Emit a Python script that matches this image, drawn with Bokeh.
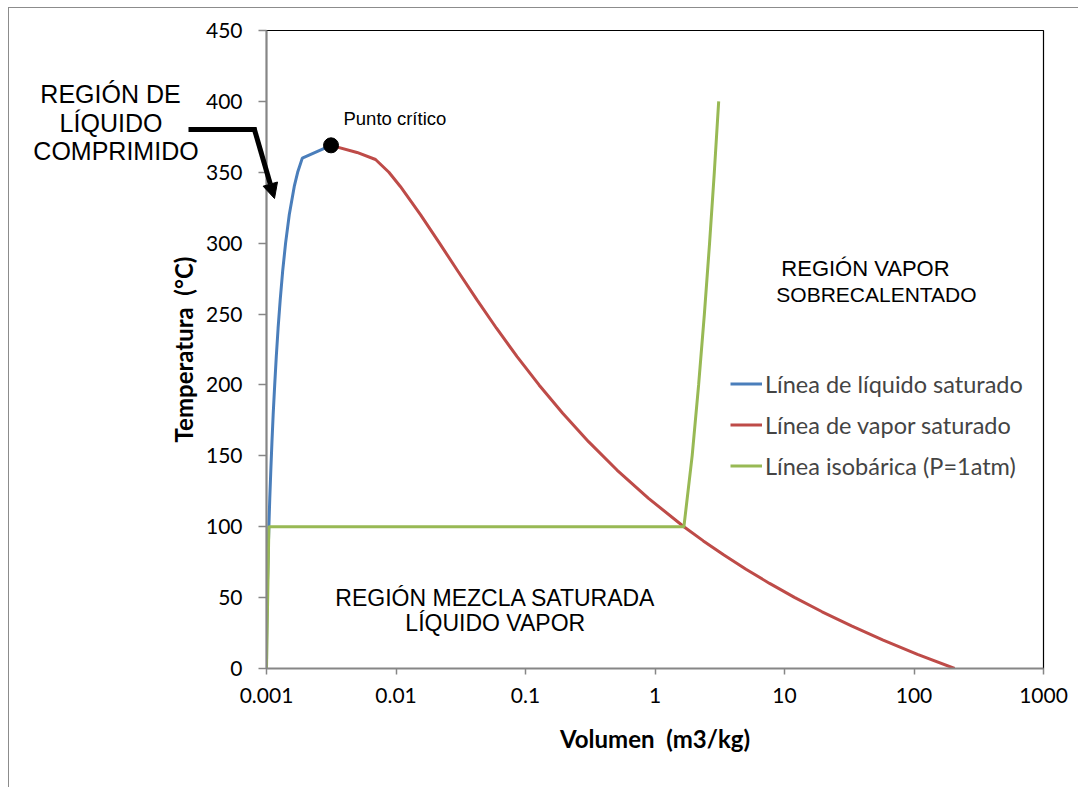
from bokeh.plotting import figure
from bokeh.models import Label, Arrow, NormalHead, FixedTicker, Legend, LegendItem, Range1d
from bokeh.embed import file_html
from bokeh.resources import INLINE

# Saturated liquid line (blue)
liq_v = [0.001000, 0.001002, 0.001008, 0.001017, 0.001029, 0.001043, 0.001060, 0.001080,
         0.001102, 0.001127, 0.001157, 0.001190, 0.001229, 0.001276, 0.001332, 0.001404,
         0.001499, 0.001638, 0.001740, 0.001890, 0.003150]
liq_T = [0, 20, 40, 60, 80, 100, 120, 140, 160, 180, 200, 220, 240, 260, 280, 300,
         320, 340, 350, 360, 369]

# Saturated vapour line (red)
vap_v = [0.003150, 0.005000, 0.006950, 0.008813, 0.010800, 0.015490, 0.021670, 0.030170,
         0.042200, 0.059700, 0.086090, 0.127200, 0.193800, 0.306800, 0.508500, 0.891500,
         1.672, 2.361, 3.407, 5.042, 7.671, 12.03, 19.52, 32.89, 57.78, 106.4, 206.0]
vap_T = [369, 364, 359, 350, 340, 320, 300, 280, 260, 240, 220, 200, 180, 160, 140, 120,
         100, 90, 80, 70, 60, 50, 40, 30, 20, 10, 0]

# Isobar P = 1 atm (green)
iso_v = [0.001000, 0.001043, 1.672, 1.936, 2.172, 2.406, 2.639, 2.871, 3.103]
iso_T = [0, 100, 100, 150, 200, 250, 300, 350, 400]

# Critical point
crit_v = [0.00315]
crit_T = [369]

x_ticks = [0.001, 0.01, 0.1, 1, 10, 100, 1000]
x_tick_labels = ["0.001", "0.01", "0.1", "1", "10", "100", "1000"]
y_ticks = [0, 50, 100, 150, 200, 250, 300, 350, 400, 450]

series_names = ["Línea de líquido saturado", "Línea de vapor saturado", "Línea isobárica (P=1atm)"]
series_colors = ["#4A7EBB", "#BE4B48", "#98B954"]

W, H = 1070, 780
p = figure(width=W, height=H, x_axis_type="log",
           x_range=Range1d(0.001, 1000), y_range=Range1d(0, 450),
           output_backend="svg", toolbar_location=None,
           min_border_left=257, min_border_right=36, min_border_top=22, min_border_bottom=120)
p.styles = {"border-left": "1px solid #8c8c8c", "border-top": "1px solid #8c8c8c",
            "margin-left": "8px", "margin-top": "7px"}
p.grid.visible = False
p.outline_line_color = "black"
p.outline_line_width = 1.2
p.background_fill_color = "white"
p.border_fill_color = "white"

TICK_FONT = "Lato"
for ax in (p.xaxis[0], p.yaxis[0]):
    ax.axis_line_color = "#868686"
    ax.axis_line_width = 2
    ax.major_tick_line_color = "#868686"
    ax.major_tick_line_width = 1.5
    ax.minor_tick_line_color = None
    ax.major_tick_in = 0
    ax.major_label_text_font = TICK_FONT
    ax.major_label_text_font_size = "21px"
    ax.major_label_text_color = "black"
    ax.axis_label_text_font = TICK_FONT
    ax.axis_label_text_font_style = "bold"
    ax.axis_label_text_font_size = "24px"
    ax.axis_label_text_color = "black"

p.xaxis.ticker = FixedTicker(ticks=x_ticks)
p.xaxis.major_label_overrides = dict(zip(x_ticks, x_tick_labels))
p.xaxis.major_tick_out = 6
p.xaxis.major_label_standoff = 13
p.xaxis.axis_label = "Volumen\u00a0 (m3/kg)"
p.xaxis.axis_label_standoff = 18

p.yaxis.ticker = FixedTicker(ticks=y_ticks)
p.yaxis.major_tick_out = 8
p.yaxis.major_label_standoff = 16
p.yaxis.axis_label = "Temperatura\u00a0 (°C)"
p.yaxis.axis_label_standoff = 5

r_liq = p.line(liq_v, liq_T, line_color=series_colors[0], line_width=3)
r_vap = p.line(vap_v, vap_T, line_color=series_colors[1], line_width=3)
r_iso = p.line(iso_v, iso_T, line_color=series_colors[2], line_width=3)
p.scatter(crit_v, crit_T, size=15, color="black")

legend = Legend(items=[LegendItem(label=series_names[0], renderers=[r_liq]),
                       LegendItem(label=series_names[1], renderers=[r_vap]),
                       LegendItem(label=series_names[2], renderers=[r_iso])],
                location=(464, 188))
legend.background_fill_alpha = 0
legend.border_line_color = None
legend.padding = 0
legend.margin = 0
legend.glyph_width = 32
legend.glyph_height = 29
legend.label_height = 29
legend.spacing = 12
legend.label_standoff = 3
legend.label_text_font = "Lato"
legend.label_text_font_size = "23.5px"
legend.label_text_baseline = "middle"
p.add_layout(legend)

REG_FONT = "Liberation Sans"

def add_label(fig, x, y, text, size, align="center"):
    fig.add_layout(Label(x=x, y=y, text=text,
                         text_font=REG_FONT, text_font_size=size,
                         text_align=align, text_baseline="middle", text_color="black"))

# Region labels inside the plot (data units)
add_label(p, 3.93e-3, 387.7, "Punto crítico", "18.5px", align="left")
add_label(p, 42.2, 281.9, "REGIÓN VAPOR", "22px")
add_label(p, 51.3, 263.5, "SOBRECALENTADO", "21px")
add_label(p, 0.0587, 49.9, "REGIÓN MEZCLA SATURADA", "23px")
add_label(p, 0.0584, 32.2, "LÍQUIDO VAPOR", "23px")

# Transparent overlay (page-pixel coordinates) for the callout left of the plot area
q = figure(width=280, height=210, x_range=Range1d(0, 280), y_range=Range1d(210, 0),
           output_backend="svg", toolbar_location=None,
           x_axis_location=None, y_axis_location=None,
           min_border_left=0, min_border_right=0, min_border_top=0, min_border_bottom=0)
q.styles = {"position": "absolute", "left": "0px", "top": "0px"}
q.outline_line_color = None
q.background_fill_alpha = 0
q.border_fill_alpha = 0
q.grid.visible = False

add_label(q, 110, 93, "REGIÓN DE", "25px")
add_label(q, 110.5, 122, "LÍQUIDO", "25px")
add_label(q, 115.5, 150, "COMPRIMIDO", "25px")

q.add_layout(Arrow(x_start=188, y_start=129, x_end=256, y_end=129,
                   end=None, line_width=5, line_color="black"))
q.add_layout(Arrow(x_start=253.5, y_start=127.5, x_end=274, y_end=198,
                   end=NormalHead(size=15, fill_color="black", line_color="black"),
                   line_width=5, line_color="black"))

open("out.html", "w").write(file_html([p, q], INLINE))
